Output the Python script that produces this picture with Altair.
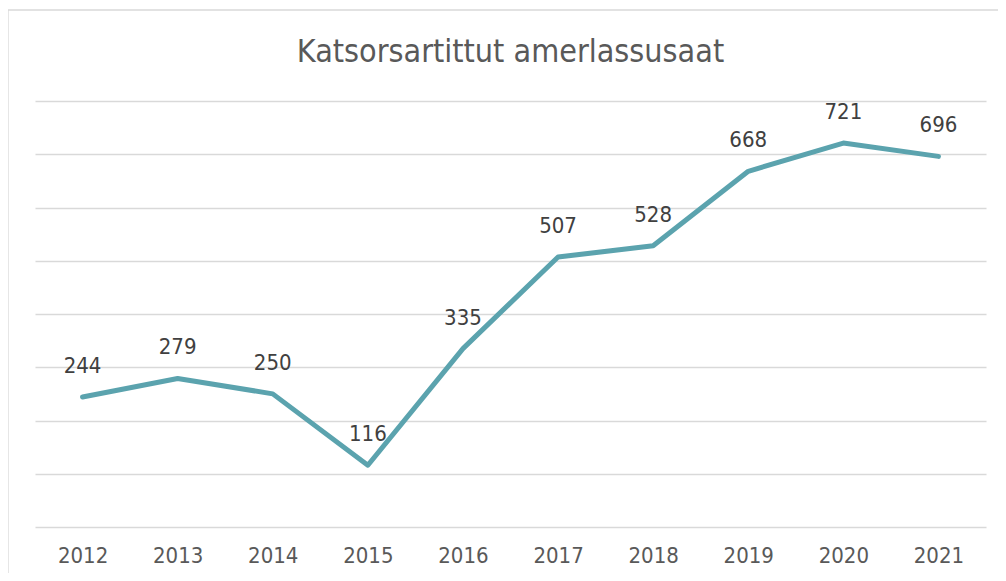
import altair as alt
import pandas as pd

years = ["2012", "2013", "2014", "2015", "2016", "2017", "2018", "2019", "2020", "2021"]
values = [244, 279, 250, 116, 335, 507, 528, 668, 721, 696]
title_text = "Katsorsartittut amerlassusaat"

df = pd.DataFrame({"year": years, "value": values})
FONT = "DejaVu Sans Condensed, DejaVu Sans, sans-serif"

xscale = alt.Scale(type="point", padding=0.5)
yscale = alt.Scale(domain=[0, 800], nice=False)

x = alt.X("year:O", scale=xscale,
          axis=alt.Axis(title=None, labelAngle=0, ticks=False, domain=False,
                        labelPadding=18, labelFontSize=22, labelColor="#595959",
                        labelFont=FONT, grid=False))
y = alt.Y("value:Q", scale=yscale,
          axis=alt.Axis(title=None, labels=False, ticks=False, domain=False,
                        values=[0, 100, 200, 300, 400, 500, 600, 700, 800],
                        gridColor="#D9D9D9", gridWidth=1.3))

frame = alt.Chart(pd.DataFrame({"f": [0]})).mark_rect(
    fill=None, stroke="#D9D9D9", strokeWidth=1.3, clip=False
).encode(x=alt.value(-27), x2=alt.value(1100), y=alt.value(-91), y2=alt.value(600))

title = alt.Chart(pd.DataFrame({"t": [title_text]})).mark_text(
    baseline="alphabetic", align="center", fontSize=32, color="#595959", font=FONT
).encode(x=alt.value(475.5), y=alt.value(-39.5), text="t:N")

line = alt.Chart(df).mark_line(color="#5BA3AE", strokeWidth=5, strokeCap="round",
                               strokeJoin="round").encode(x=x, y=y)

labels = alt.Chart(df).mark_text(baseline="alphabetic", dy=-24, fontSize=22,
                                 color="#404040", font=FONT).encode(
    x=x, y=y, text="value:Q")

chart = alt.layer(frame, title, line, labels).properties(
    width=951, height=426,
    autosize=alt.AutoSizeParams(type="none"),
    padding={"left": 27, "top": 93, "right": 12, "bottom": 46},
).configure_view(stroke=None)

chart.save("out.html", embed_options={"renderer": "svg", "actions": False})
